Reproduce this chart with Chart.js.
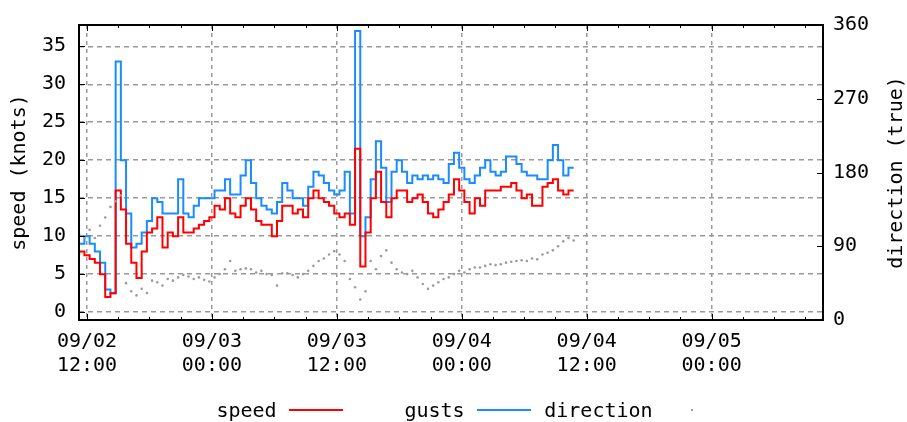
<!DOCTYPE html>
<html>
<head>
<meta charset="utf-8">
<script src="https://cdn.jsdelivr.net/npm/chart.js@4/dist/chart.umd.min.js"></script>
<style>
  body { margin: 0; background: #fff; }
  #wrap { position: relative; width: 907px; height: 422px; font-family: "DejaVu Sans Mono", monospace; font-size: 20px; color: #000; }
  #legend { position: absolute; left: 155px; top: 398px; display: flex; }
  .entry { display: flex; align-items: center; width: 188px; }
  .entry span { width: 123px; text-align: right; line-height: 24px; }
  .sample { width: 55px; height: 24px; margin-left: 12px; position: relative; }
  .sample i { position: absolute; left: 0; right: 0; top: 11px; height: 1.5px; }
  .sample b { position: absolute; left: 26px; top: 11px; width: 2px; height: 2px; }
</style>
</head>
<body>
<div id="wrap">
  <canvas id="windChart" width="907" height="422"></canvas>
  <div id="legend"></div>
</div>
<script>
// samples every half hour; hours counted from 09/02 12:00
var firstHour = -0.75
var stepHours = 0.5

// knots
var speed = [
    7.5, 8, 7.5, 7, 6.5, 5, 2, 2.5, 16, 13.5, 9, 6.5,
    4.5, 8, 10.5, 11, 12.5, 8.5, 10.5, 10, 12.5, 10.5, 10.5, 11,
    11.5, 12, 12.5, 14, 13.5, 15, 13, 12.5, 14, 15, 13.5, 12,
    11.5, 11.5, 10, 12, 14, 14, 13, 13.5, 12.5, 15, 16, 15,
    14.5, 14, 13, 12.5, 13, 11.5, 21.5, 6, 10.5, 15, 18.5, 14.5,
    12.5, 15, 16, 16, 14.5, 15, 15.5, 14.5, 13, 12.5, 13.5, 14.5,
    15.5, 17.5, 16, 14.5, 13, 15, 14, 16, 16, 16, 16.5, 16.5,
    17, 16, 15, 15.5, 14, 14, 16.5, 17, 17.5, 16, 15.5, 16
]
var gusts = [
    9, 9, 10, 9, 8, 6.5, 3, 2.5, 33, 20, 13, 8.5,
    9, 10.5, 12, 15, 14.5, 13, 13, 13, 17.5, 13, 12.5, 14,
    15, 15, 15, 16, 16, 17.5, 15.5, 15.5, 18, 20, 17, 15,
    14, 13.5, 13, 14.5, 17, 16, 15, 15, 14, 16.5, 18.5, 18,
    17, 16, 15.5, 16, 18.5, 13, 37, 10, 12.5, 17.5, 22.5, 19,
    14.5, 18.5, 20, 18.5, 17, 18, 17.5, 18, 17.5, 18, 17.5, 17,
    19.5, 21, 19, 17.5, 17, 18, 19, 20, 18.5, 18, 18.5, 20.5,
    20.5, 19.5, 18.5, 18, 18, 17.5, 17.5, 20, 22, 20, 18, 19
]
// degrees true
var direction = [
    105, 100, 110, 100, 115, 125, 138, 145, 152, 45, 35, 30,
    38, 33, 48, 46, 42, 50, 48, 52, 55, 53, 50, 52,
    49, 47, 52, 56, 62, 72, 60, 62, 63, 62, 58, 60,
    56, 55, 42, 57, 57, 55, 52, 56, 60, 66, 72, 75,
    80, 84, 80, 72, 50, 40, 25, 35, 72, 62, 78, 85,
    70, 62, 58, 56, 60, 52, 44, 38, 42, 46, 50, 52,
    56, 60, 58, 62, 64, 64, 66, 68, 67, 68, 70, 71,
    72, 73, 72, 75, 74, 80, 82, 85, 90, 96, 100, 97
]
var tickLabels = [
    ['09/02', '12:00'], ['09/03', '00:00'], ['09/03', '12:00'],
    ['09/04', '00:00'], ['09/04', '12:00'], ['09/05', '00:00']
]
var seriesNames = ['speed', 'gusts', 'direction']
var colours = ['#ff0000', '#1a8cff', '#9c9c9c']
var rightTitle = 'direction (true)'

var fontFamily = '"DejaVu Sans Mono", monospace'
Chart.defaults.font.family = fontFamily
Chart.defaults.font.size = 20
Chart.defaults.color = '#000'

function toPoints(values) {
    return values.map(function(v, i) { return {x: firstHour + i * stepHours, y: v} })
}

// gnuplot-ish frame: box round the plot, ticks pointing inwards, mirrored on top
var frame = {
    id: 'frame',
    afterDatasetsDraw: function(chart) {
        var ctx = chart.ctx, a = chart.chartArea, sx = chart.scales.x, sy = chart.scales.y, sy2 = chart.scales.y2
        ctx.save()
        ctx.strokeStyle = '#000'
        ctx.lineWidth = 1
        ctx.beginPath()
        for (var h = 0; h <= sx.max; h += 3) {
            var px = Math.round(sx.getPixelForValue(h)) + 0.5
            var len = h % 12 === 0 ? 6 : 3
            ctx.moveTo(px, a.bottom); ctx.lineTo(px, a.bottom - len)
            ctx.moveTo(px, a.top); ctx.lineTo(px, a.top + len)
        }
        sy.ticks.forEach(function(t) {
            var py = Math.round(sy.getPixelForValue(t.value)) + 0.5
            ctx.moveTo(a.left, py); ctx.lineTo(a.left + 6, py)
        })
        sy2.ticks.forEach(function(t) {
            var py = Math.round(sy2.getPixelForValue(t.value)) + 0.5
            ctx.moveTo(a.right, py); ctx.lineTo(a.right - 6, py)
        })
        ctx.stroke()
        ctx.lineWidth = 2
        ctx.strokeRect(a.left, a.top, a.right - a.left, a.bottom - a.top)
        // right axis title reads bottom-to-top like the left one
        ctx.translate(897, (a.top + a.bottom) / 2)
        ctx.rotate(-Math.PI / 2)
        ctx.fillStyle = '#000'
        ctx.font = '20px ' + fontFamily
        ctx.textAlign = 'center'
        ctx.textBaseline = 'middle'
        ctx.fillText(rightTitle, 0, 0)
        ctx.restore()
    }
}

var gridColour = '#9a9a9a'
var ctx = document.getElementById('windChart').getContext('2d')
var chart = new Chart(ctx, {
    type: 'line',
    data: {
        datasets: [{
            label: seriesNames[0],
            data: toPoints(speed),
            borderColor: colours[0],
            borderWidth: 2,
            stepped: 'after',
            pointRadius: 0,
            yAxisID: 'y',
            order: 1
        }, {
            label: seriesNames[1],
            data: toPoints(gusts),
            borderColor: colours[1],
            borderWidth: 2,
            stepped: 'after',
            pointRadius: 0,
            yAxisID: 'y',
            order: 2
        }, {
            label: seriesNames[2],
            data: toPoints(direction),
            showLine: false,
            pointRadius: 1.3,
            pointBorderWidth: 0,
            pointBackgroundColor: colours[2],
            yAxisID: 'y2',
            order: 0
        }]
    },
    options: {
        responsive: false,
        animation: false,
        layout: {padding: {top: 18}},
        plugins: {legend: {display: false}, tooltip: {enabled: false}},
        scales: {
            x: {
                type: 'linear',
                min: -0.77,
                max: 70.7,
                ticks: {
                    stepSize: 12, includeBounds: false, autoSkip: false,
                    maxRotation: 0, minRotation: 0, padding: 10,
                    callback: function(v) { return tickLabels[Math.round(v / 12)] }
                },
                grid: {color: gridColour, lineWidth: 1.5, drawTicks: false},
                border: {display: false, dash: [4, 4]},
                afterFit: function(s) { s.height = 102 }
            },
            y: {
                position: 'left',
                min: -1.03,
                max: 37.8,
                ticks: {stepSize: 5, includeBounds: false, padding: 13},
                grid: {color: gridColour, lineWidth: 1.5, drawTicks: false},
                border: {display: false, dash: [5, 4]},
                title: {display: true, text: 'speed (knots)', padding: {top: 8, bottom: 0}},
                afterFit: function(s) { s.width = 79 }
            },
            y2: {
                position: 'right',
                min: 0,
                max: 360,
                ticks: {stepSize: 90, padding: 10},
                grid: {drawOnChartArea: false, drawTicks: false},
                border: {display: false},
                afterFit: function(s) { s.width = 84 }
            }
        }
    },
    plugins: [frame]
})

// legend under the plot: name first, then the sample, as gnuplot does it
var legend = document.getElementById('legend')
seriesNames.forEach(function(name, i) {
    var entry = document.createElement('div')
    entry.className = 'entry'
    var mark = i < 2 ? '<i style="background:' + colours[i] + '"></i>'
                     : '<b style="background:' + colours[i] + '"></b>'
    entry.innerHTML = '<span>' + name + '</span><div class="sample">' + mark + '</div>'
    legend.appendChild(entry)
})
</script>
</body>
</html>
